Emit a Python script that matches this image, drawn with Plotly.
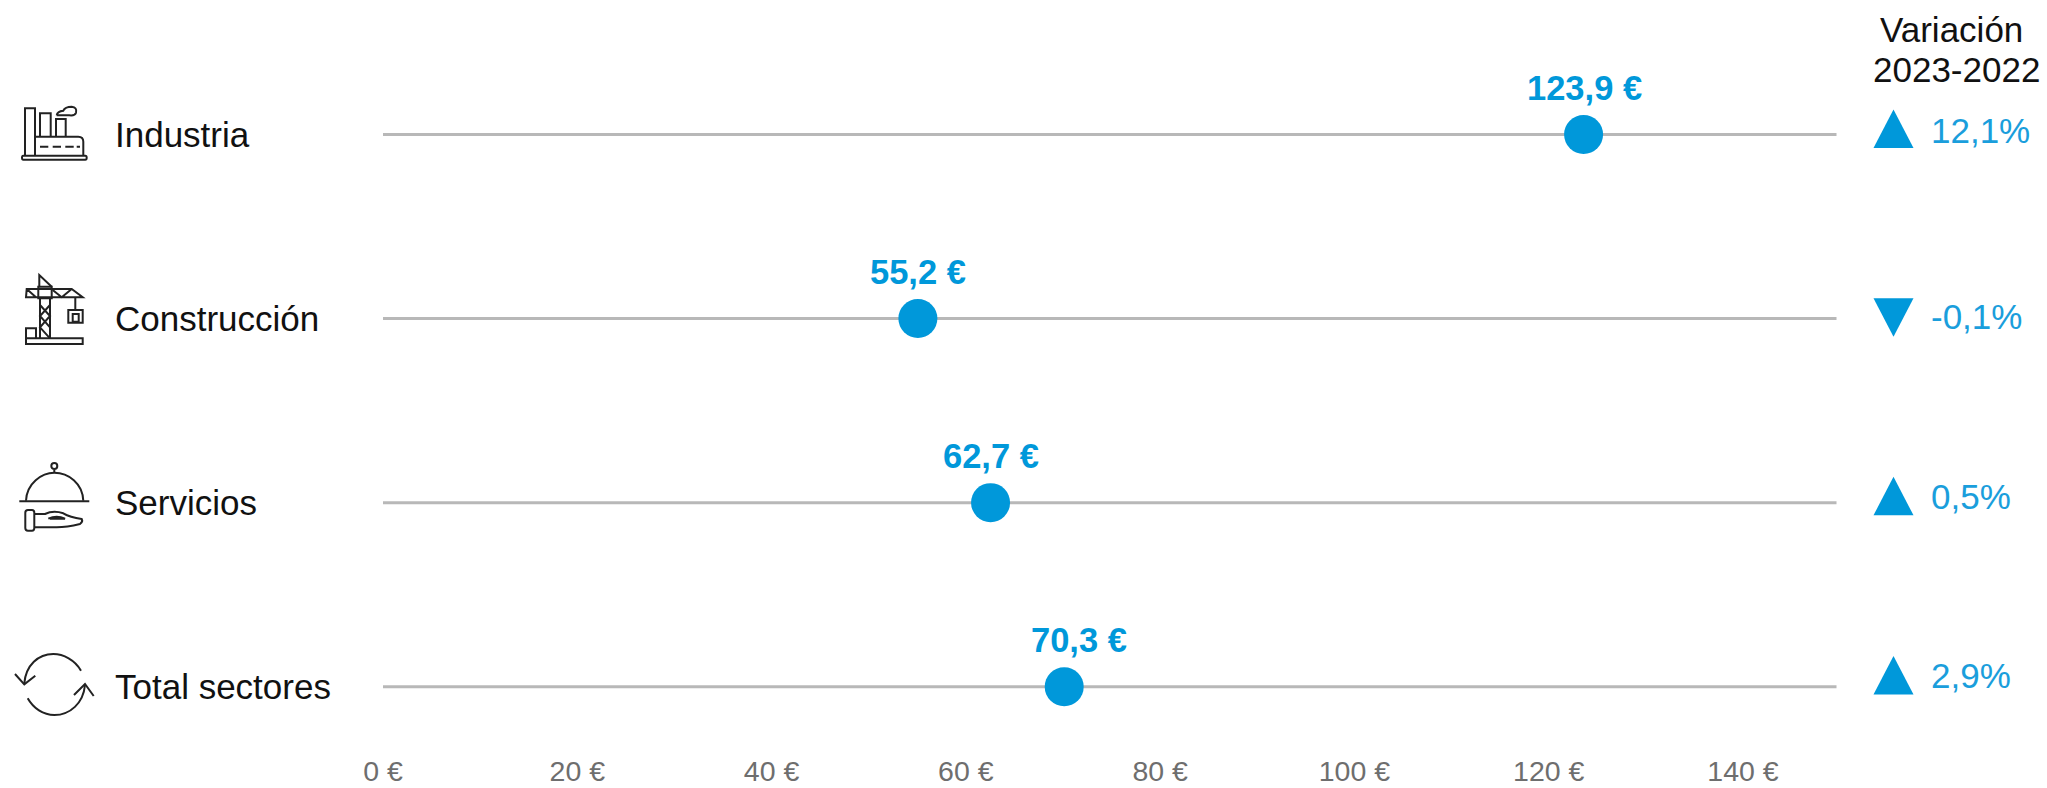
import re
import plotly.graph_objects as go

categories = ["Industria", "Construcción", "Servicios", "Total sectores"]
values = [123.9, 55.2, 62.7, 70.3]
variation = [12.1, -0.1, 0.5, 2.9]
tick_values = [0, 20, 40, 60, 80, 100, 120, 140]
tick_labels = [f"{v} €" for v in tick_values]
header_lines = ["Variación", "2023-2022"]

# hand-placement offsets (pixels) seen in the original layout
label_xshift = [1, 0, 0, 15]
var_tri_shift = [5.5, 1.4, 6.3, 11.2]
var_text_shift = [4.5, 2.5, 6.5, 11.7]
TICK_STRETCH = 1.0025  # tick labels in the original sit on a slightly wider scale

W, H = 2047, 788
BOTTOM = 751
PX_PER_UNIT = 9.69
X0_PX = 383
ROW0 = 134.5
STEP = 184.07
LINE_END = 150
VAR_X = (1893.5 - X0_PX) / PX_PER_UNIT
VAR_TEXT_X = (1929 - X0_PX) / PX_PER_UNIT

BLUE = "#0098DA"
BLUE_TXT = "#1A9EDC"
FONT = "Liberation Sans"
FS = 35


def es(v, nd=1):
    return f"{v:.{nd}f}".replace(".", ",")


fig = go.Figure()
for c in categories:
    fig.add_trace(go.Scatter(x=[0, LINE_END], y=[c, c], mode="lines",
                             line=dict(color="#B8B8B8", width=3), hoverinfo="skip",
                             showlegend=False))
fig.add_trace(go.Scatter(x=values, y=categories, mode="markers",
                         marker=dict(size=39, color=BLUE), showlegend=False))

ann = []
for c, v, dx, var, tshift in zip(categories, values, label_xshift, variation, var_text_shift):
    ann.append(dict(x=112.5 / W, xref="paper", y=c, yref="y", text=c, showarrow=False,
                    xanchor="left", yanchor="middle", font=dict(family=FONT, size=FS, color="#111111")))
    ann.append(dict(x=v, xref="x", y=c, yref="y", text=es(v) + " €", showarrow=False,
                    xshift=dx, yshift=47, xanchor="center", yanchor="middle",
                    font=dict(family=FONT, size=34.5, color=BLUE, weight="bold")))
    ann.append(dict(x=VAR_TEXT_X, xref="x", y=c, yref="y", text=es(var) + "%", showarrow=False,
                    yshift=tshift, xanchor="left", yanchor="middle",
                    font=dict(family=FONT, size=FS, color=BLUE_TXT)))
for line, xpx, ypx in zip(header_lines, [1951, 1956], [29, 69.5]):
    ann.append(dict(x=xpx / W, xref="paper", y=(BOTTOM - ypx) / BOTTOM, yref="paper", text=line,
                    showarrow=False, xanchor="center", yanchor="middle",
                    font=dict(family=FONT, size=FS, color="#111111")))

shapes = []
for c, v, s in zip(categories, variation, var_tri_shift):
    if v >= 0:
        tri = f"M0 {s + 19.5} L-20 {s - 19} H20 Z"
    else:
        tri = f"M0 {s - 19.5} L-20 {s + 19} H20 Z"
    shapes.append(dict(type="path", xref="x", yref="y", xsizemode="pixel", ysizemode="pixel",
                       xanchor=VAR_X, yanchor=c, path=tri, fillcolor=BLUE, line=dict(width=0)))


def icon(path, ox, oy):
    """Zoom-crop coordinates (3x) of a decorative icon -> pixel offsets from the plot's bottom-left."""
    out = []
    for cmd, args in re.findall(r"([MLHVCQZ])([^MLHVCQZ]*)", path):
        nums = [float(n) for n in args.split()]
        if cmd == "H":
            out.append("H%.1f" % (ox + nums[0] / 3))
        elif cmd == "V":
            out.append("V%.1f" % (BOTTOM - (oy + nums[0] / 3)))
        elif cmd == "Z":
            out.append("Z")
        else:
            pts = [("%.1f" % (ox + nums[i] / 3), "%.1f" % (BOTTOM - (oy + nums[i + 1] / 3)))
                   for i in range(0, len(nums), 2)]
            out.append(cmd + " ".join(f"{a} {b}" for a, b in pts))
    return "".join(out)


ICONS = [
    (0, 90, [
        "M70 197 H256 Q260 197 260 203 Q260 209 256 209 H70 Q66 209 66 203 Q66 197 70 197 Z",
        "M75 197 V55 H105 V197",
        "M120 140 V70 H152 V140",
        "M168 140 V87 H197 V140",
        "M170 76 Q172 64 190 62 Q195 50 215 50 Q232 52 228 68 Q225 78 208 76 H170",
        "M105 140 H235 Q250 140 250 155 V197",
        "M120 170 H145 M158 170 H183 M196 170 H221 M230 170 H240",
    ]),
    (0, 90, [
        "M120 625 V745 M150 625 V745 M120 645 L150 678 L120 712 L150 745 M150 645 L120 678 L150 712",
        "M118 590 V555 L155 590",
        "M80 597 H215 L248 622 H78 Z M80 597 L108 622 M158 600 L185 622 L215 597",
        "M115 590 H155 V625 H115 Z",
        "M226 622 V657 M205 660 H248 V698 H205 Z M218 672 H236 V695 H218 Z",
        "M78 745 H248 V762 H78 Z M78 745 V715 H108 V745",
    ]),
    (0, 440, [
        "M58 184 H268",
        "M78 182 C80 130 125 98 163 98 C205 98 248 130 250 182",
        "M163 87 V98 M154 78 C154 66 172 66 172 78 C172 90 154 90 154 78 Z",
        "M84 210 H96 Q103 210 103 218 V264 Q103 272 96 272 H84 Q76 272 76 264 V218 Q76 210 84 210 Z",
        "M103 222 H135 Q160 210 190 220 Q210 232 245 237 Q250 245 240 252 Q200 262 170 262 H103",
        "M145 236 Q170 225 195 236 H150",
    ]),
    (0, 440, [
        "M243 692 C225 660 190 642 160 642 C115 642 78 675 73 730",
        "M45 702 L73 733 L106 707",
        "M83 775 C100 805 130 825 163 825 C210 825 250 790 255 735",
        "M222 765 L255 732 L281 768",
    ]),
]
for ox, oy, paths in ICONS:
    for p in paths:
        shapes.append(dict(type="path", xref="paper", yref="paper", xsizemode="pixel", ysizemode="pixel",
                           xanchor=0, yanchor=0, path=icon(p, ox, oy), line=dict(color="#222222", width=2)))

fig.update_layout(
    width=W, height=H, margin=dict(l=0, r=0, t=0, b=H - BOTTOM, pad=0),
    paper_bgcolor="white", plot_bgcolor="white", showlegend=False,
    annotations=ann, shapes=shapes,
    font=dict(family=FONT),
    xaxis=dict(range=[-X0_PX / PX_PER_UNIT, (W - X0_PX) / PX_PER_UNIT], tickmode="array",
               tickvals=[v * TICK_STRETCH for v in tick_values], ticktext=tick_labels,
               showgrid=False, zeroline=False, showline=False, ticks="",
               tickfont=dict(family=FONT, size=28.5, color="#6E6E6E")),
    yaxis=dict(type="category", categoryorder="array", categoryarray=categories, visible=False,
               range=[(BOTTOM - ROW0) / STEP, -ROW0 / STEP], showgrid=False, zeroline=False),
)
fig.write_html("out.html", config=dict(displayModeBar=False),
               post_script="document.body.style.margin='0';document.body.style.overflow='hidden';")
